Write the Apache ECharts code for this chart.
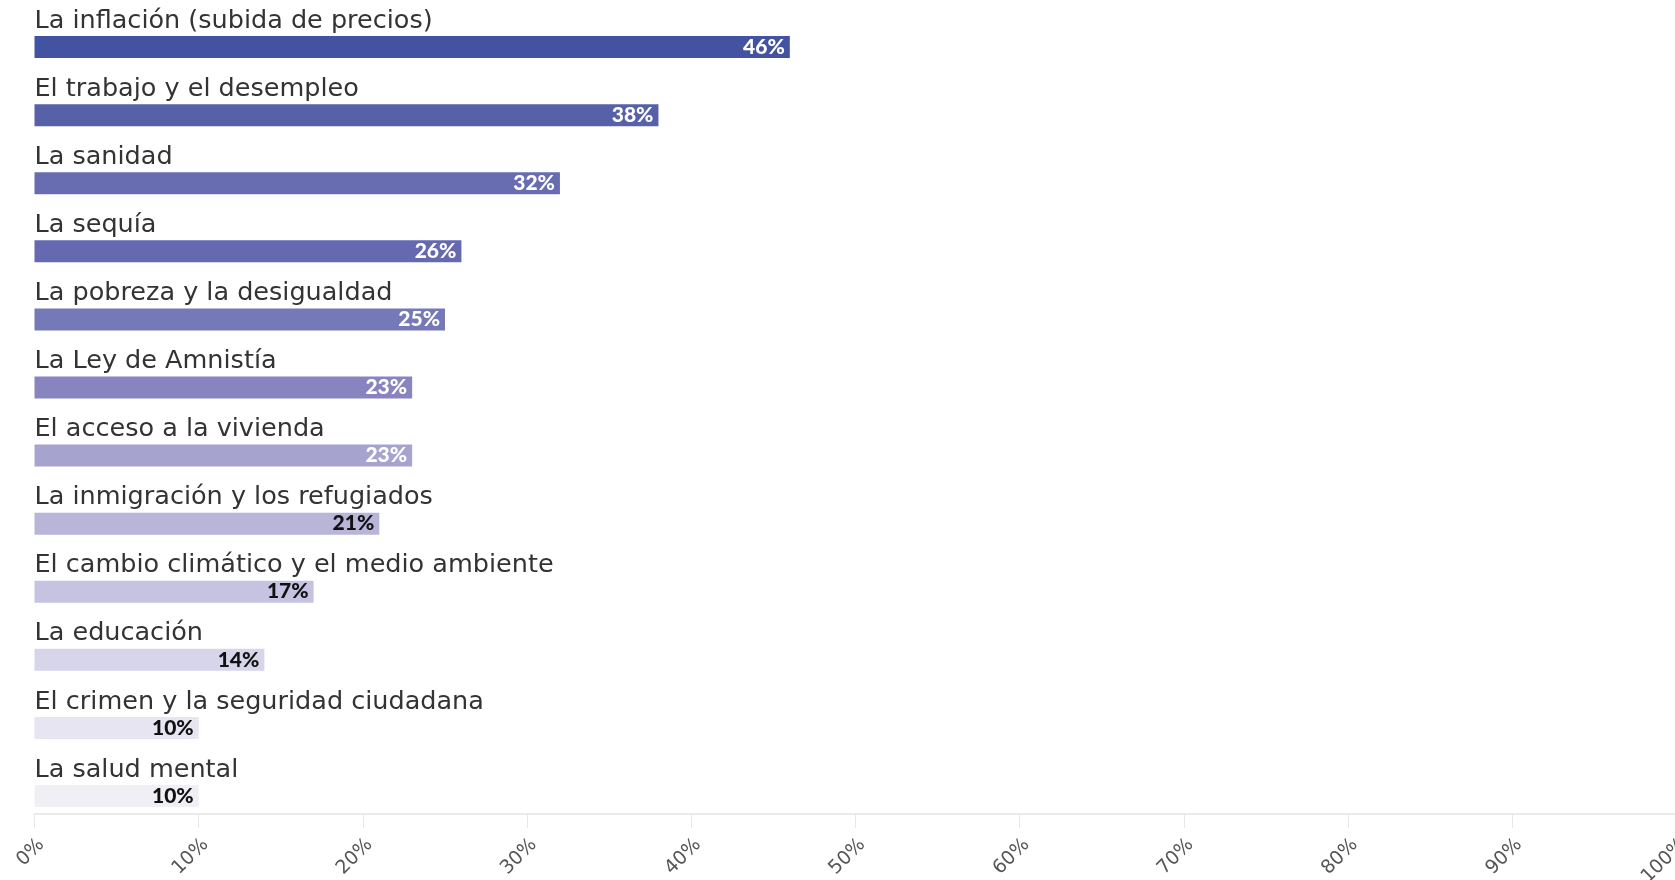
<!DOCTYPE html>
<html>
<head>
<meta charset="utf-8">
<script src="https://cdn.jsdelivr.net/npm/echarts@6/dist/echarts.min.js"></script>
<style>
  html, body { margin: 0; padding: 0; background: #ffffff; overflow: hidden; width: 1675px; height: 880px; }
  #chart { position: absolute; left: 0; top: 0; width: 1675px; height: 880px; }
</style>
</head>
<body>
<div id="chart"></div>
<script>
const categories = [
  'La inflación (subida de precios)',
  'El trabajo y el desempleo',
  'La sanidad',
  'La sequía',
  'La pobreza y la desigualdad',
  'La Ley de Amnistía',
  'El acceso a la vivienda',
  'La inmigración y los refugiados',
  'El cambio climático y el medio ambiente',
  'La educación',
  'El crimen y la seguridad ciudadana',
  'La salud mental'
];
const values = [46, 38, 32, 26, 25, 23, 23, 21, 17, 14, 10, 10];
const tickLabels = ['0%', '10%', '20%', '30%', '40%', '50%', '60%', '70%', '80%', '90%', '100%'];

const barColors = ['#4453a1', '#5761a8', '#686db1', '#6569b0', '#7579b8', '#8884bf',
  '#a6a3cf', '#b8b5d9', '#c5c3e1', '#d7d5ea', '#e6e5f1', '#efeff5'];
const labelColors = ['#ffffff', '#ffffff', '#ffffff', '#ffffff', '#ffffff', '#ffffff',
  '#ffffff', '#111111', '#111111', '#111111', '#111111', '#111111'];

const chart = echarts.init(document.getElementById('chart'), null, { renderer: 'canvas', width: 1675, height: 880 });

chart.setOption({
  animation: false,
  backgroundColor: '#ffffff',
  grid: { left: 34.5, width: 1642, top: 13, height: 817, containLabel: false, outerBoundsMode: 'none' },
  xAxis: {
    type: 'value',
    min: 0,
    max: 100,
    interval: 10,
    offset: -16,
    axisLine: { show: true, lineStyle: { color: '#ebebeb', width: 2 } },
    axisTick: { show: true, length: 14, lineStyle: { color: '#e6e6e6', width: 1 } },
    splitLine: { show: false },
    axisLabel: {
      rotate: 45,
      margin: 21,
      verticalAlign: 'top',
      color: '#555555',
      fontFamily: 'DejaVu Sans',
      fontSize: 19,
      formatter: function (v) { return tickLabels[Math.round(v / 10)]; }
    }
  },
  yAxis: {
    type: 'category',
    inverse: true,
    data: categories,
    axisLine: { show: false },
    axisTick: { show: false },
    axisLabel: {
      inside: true,
      interval: 0,
      margin: 0,
      align: 'left',
      verticalAlign: 'bottom',
      padding: [0, 0, 13, 0],
      color: '#333333',
      fontFamily: 'DejaVu Sans',
      fontSize: 25.5
    },
    z: 10
  },
  series: [{
    type: 'bar',
    barWidth: 22,
    data: values.map(function (v, i) {
      return {
        value: v,
        itemStyle: { color: barColors[i] },
        label: { color: labelColors[i] }
      };
    }),
    label: {
      show: true,
      position: 'insideRight',
      distance: 5,
      fontFamily: 'Lato',
      fontWeight: 900,
      fontSize: 21,
      formatter: '{c}%'
    }
  }]
});
</script>
</body>
</html>
